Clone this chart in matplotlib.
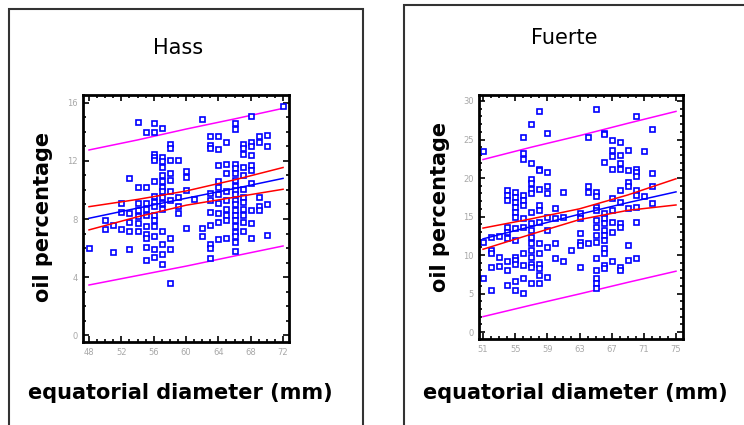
import matplotlib.pyplot as plt
from matplotlib.patches import Rectangle
from matplotlib.ticker import MultipleLocator

# Hass scatter (equatorial diameter mm, oil %)
hass_x = ([48] + [50] * 2 + [51] * 2 + [52] * 3 + [53] * 5 + [54] * 7 + [55] * 10 +
          [56] * 15 + [57] * 15 + [58] * 10 + [59] * 4 + [60] * 4 + [61] + [62] * 3 +
          [63] * 10 + [64] * 10 + [65] * 9 + [66] * 19 + [67] * 12 + [68] * 10 +
          [69] * 5 + [70] * 4 + [72])
hass_y = [6.0,
          7.9, 7.3,
          7.6, 5.75,
          9.1, 8.5, 7.3,
          10.8, 8.4, 7.8, 7.2, 5.9,
          14.7, 10.2, 9.1, 8.6, 8.2, 7.7, 7.2,
          14.0, 10.2, 9.1, 8.7, 8.3, 7.5, 7.0, 6.7, 6.1, 5.2,
          14.6, 14.0, 12.5, 12.3, 12.1, 10.6, 9.6, 9.2, 8.9, 8.3, 7.9, 7.5, 6.8, 5.9, 5.4,
          14.3, 12.3, 12.0, 11.6, 11.0, 10.6, 10.2, 9.9, 9.5, 9.1, 8.7, 7.2, 6.3, 5.6, 4.9,
          13.2, 12.9, 12.1, 11.2, 10.7, 9.9, 9.3, 6.7, 5.9, 3.6,
          12.1, 9.5, 8.9, 8.4,
          11.3, 10.9, 10.0, 7.4,
          9.4,
          14.9, 7.4, 6.8,
          13.7, 13.1, 12.9, 9.8, 9.3, 8.5, 7.6, 6.3, 6.0, 5.3,
          13.7, 12.8, 11.7, 10.6, 10.2, 9.7, 9.1, 8.4, 7.8, 6.6,
          13.3, 11.8, 11.2, 9.9, 9.3, 8.7, 8.3, 7.9, 6.7,
          14.6, 14.2, 11.8, 11.5, 11.2, 10.7, 10.3, 10.0, 9.7, 9.3, 9.0, 8.6, 8.3, 7.9,
          7.5, 7.1, 6.8, 6.4, 5.8,
          13.2, 12.9, 12.5, 11.6, 11.0, 10.1, 9.5, 9.2, 8.7, 8.3, 7.8, 7.2,
          15.1, 13.3, 13.0, 12.4, 11.7, 11.4, 10.5, 8.6, 7.7, 6.7,
          13.7, 13.3, 9.5, 8.9, 8.6,
          13.8, 13.0, 9.0, 6.9,
          15.8]

# Hass regression lines
hass_lx = [48, 54, 60, 66, 72]
hass_fit = [8.05, 8.75, 9.43, 10.1, 10.8]
hass_cu = [8.85, 9.35, 9.93, 10.7, 11.55]
hass_cl = [7.25, 8.15, 8.95, 9.5, 10.05]
hass_pu = [12.76, 13.45, 14.2, 14.9, 15.63]
hass_pl = [3.45, 4.1, 4.75, 5.45, 6.14]

# Fuerte scatter
fuerte_x = ([51] * 3 + [52] * 5 + [53] * 3 + [54] * 9 + [55] * 13 + [56] * 12 +
            [57] * 16 + [58] * 13 + [59] * 8 + [60] * 4 + [61] * 3 + [62] +
            [63] * 6 + [64] * 4 + [65] * 14 + [66] * 13 + [67] * 9 + [68] * 10 +
            [69] * 7 + [70] * 9 + [71] * 2 + [72] * 4)
fuerte_y = [23.5, 11.7, 7.0,
            12.3, 10.7, 10.2, 8.5, 5.5,
            12.5, 9.8, 8.6,
            18.4, 17.8, 17.2, 13.7, 13.0, 12.2, 9.2, 8.1, 6.1,
            18.2, 17.5, 16.9, 16.2, 15.6, 15.0, 13.5, 12.0, 9.8, 9.4, 8.9, 6.6, 5.5,
            25.3, 23.2, 22.5, 17.8, 17.1, 16.5, 14.8, 13.7, 10.2, 8.7, 7.0, 5.1,
            27.0, 22.0, 19.9, 19.3, 18.6, 18.0, 15.6, 14.1, 13.3, 12.4, 11.6, 10.7,
            9.8, 8.9, 8.5, 6.4,
            28.7, 21.2, 21.0, 18.6, 16.5, 15.9, 14.3, 11.5, 10.2, 8.9, 8.3, 7.4, 6.4,
            25.9, 20.8, 18.9, 18.0, 15.0, 13.3, 11.1, 7.2,
            16.1, 14.8, 11.5, 9.6,
            18.2, 15.0, 9.2,
            10.7,
            15.4, 14.8, 12.8, 11.7, 11.3, 8.5,
            25.3, 18.9, 18.2, 11.5,
            28.9, 18.2, 17.6, 16.3, 15.9, 14.5, 13.7, 12.6, 11.7, 9.6, 8.1, 7.0, 6.4, 5.7,
            25.9, 25.7, 22.1, 15.4, 14.8, 14.1, 13.3, 12.6, 12.0, 10.9, 10.2, 8.7, 8.3,
            25.0, 23.6, 22.8, 21.2, 17.4, 15.8, 14.3, 13.0, 9.2,
            24.7, 23.0, 21.9, 21.2, 18.4, 16.9, 14.1, 13.7, 8.5, 8.1,
            23.7, 21.0, 19.5, 18.9, 16.1, 11.3, 9.4,
            28.1, 21.2, 20.8, 20.2, 18.4, 17.8, 16.3, 14.3, 9.6,
            23.5, 17.6,
            26.4, 20.6, 18.9, 16.7]

fuerte_lx = [51, 57, 63, 69, 75]
fuerte_fit = [12.1, 13.7, 15.3, 16.8, 18.2]
fuerte_cu = [13.5, 14.7, 16.0, 17.8, 19.9]
fuerte_cl = [10.75, 12.7, 14.6, 15.8, 16.5]
fuerte_pu = [22.4, 24.0, 25.5, 27.1, 28.65]
fuerte_pl = [2.0, 3.5, 4.95, 6.45, 7.9]

hass_xticks = [48, 52, 56, 60, 64, 68, 72]
hass_yticks = [0, 4, 8, 12, 16]
fuerte_xticks = [51, 55, 59, 63, 67, 71, 75]
fuerte_yticks = [0, 5, 10, 15, 20, 25, 30]

fig = plt.figure(figsize=(7.44, 4.25), dpi=100)

# outer frames around each panel
fig.patches.append(Rectangle((0.012, -0.05), 0.476, 1.029, transform=fig.transFigure,
                             fill=False, ec='#333333', lw=1.5))
fig.patches.append(Rectangle((0.543, -0.05), 0.6, 1.038, transform=fig.transFigure,
                             fill=False, ec='#333333', lw=1.5))

ax1 = fig.add_axes([0.1116, 0.1953, 0.2769, 0.5812])
ax2 = fig.add_axes([0.6438, 0.2024, 0.2742, 0.5741])


def draw(ax, x, y, lx, fit, cu, cl, pu, pl, xlim, ylim, xt, yt):
    ax.plot(lx, pu, color='magenta', lw=1.1)
    ax.plot(lx, pl, color='magenta', lw=1.1)
    ax.plot(x, y, 's', ms=3.6, mfc='white', mec='blue', mew=1.2, ls='none')
    ax.plot(lx, fit, color='blue', lw=1.1)
    ax.plot(lx, cu, color='red', lw=1.1)
    ax.plot(lx, cl, color='red', lw=1.1)
    ax.set_xlim(*xlim)
    ax.set_ylim(*ylim)
    ax.set_xticks(xt)
    ax.set_yticks(yt)
    ax.xaxis.set_minor_locator(MultipleLocator(1))
    ax.yaxis.set_minor_locator(MultipleLocator(1))
    ax.tick_params(which='both', direction='in', top=True, right=True,
                   width=1.2, colors='black', labelcolor='#a8a8a8', labelsize=6)
    ax.tick_params(which='major', length=4, pad=4)
    ax.tick_params(which='minor', length=2.5)
    for s in ax.spines.values():
        s.set_linewidth(2)


draw(ax1, hass_x, hass_y, hass_lx, hass_fit, hass_cu, hass_cl, hass_pu, hass_pl,
     (47.26, 72.74), (-0.48, 16.55), hass_xticks, hass_yticks)
draw(ax2, fuerte_x, fuerte_y, fuerte_lx, fuerte_fit, fuerte_cu, fuerte_cl, fuerte_pu,
     fuerte_pl, (50.5, 75.87), (-0.9, 30.78), fuerte_xticks, fuerte_yticks)

fig.text(0.239, 0.887, 'Hass', ha='center', va='center', fontsize=15)
fig.text(0.758, 0.911, 'Fuerte', ha='center', va='center', fontsize=15)
fig.text(0.0578, 0.489, 'oil percentage', rotation=90, ha='center', va='center',
         fontsize=15, fontweight='bold')
fig.text(0.591, 0.513, 'oil percentage', rotation=90, ha='center', va='center',
         fontsize=15, fontweight='bold')
fig.text(0.242, 0.075, 'equatorial diameter (mm)', ha='center', va='center',
         fontsize=15, fontweight='bold')
fig.text(0.773, 0.075, 'equatorial diameter (mm)', ha='center', va='center',
         fontsize=15, fontweight='bold')

fig.savefig('out.png', dpi=100)
